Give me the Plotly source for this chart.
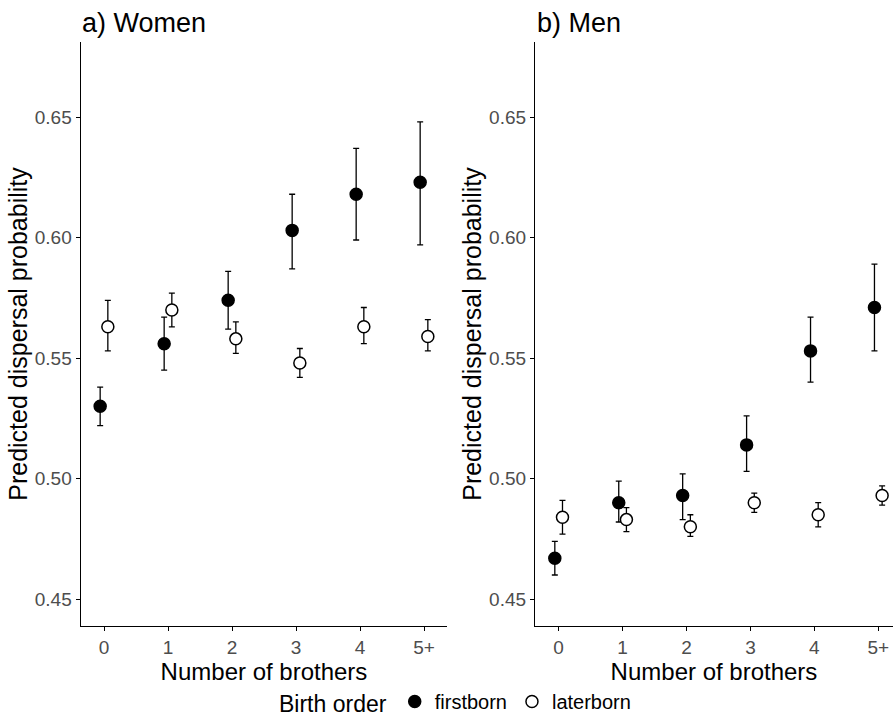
import plotly.graph_objects as go

categories = ["0", "1", "2", "3", "4", "5+"]

women_first = [0.530, 0.556, 0.574, 0.603, 0.618, 0.623]
women_first_lo = [0.522, 0.545, 0.562, 0.587, 0.599, 0.597]
women_first_hi = [0.538, 0.567, 0.586, 0.618, 0.637, 0.648]
women_later = [0.563, 0.570, 0.558, 0.548, 0.563, 0.559]
women_later_lo = [0.553, 0.563, 0.552, 0.542, 0.556, 0.553]
women_later_hi = [0.574, 0.577, 0.565, 0.554, 0.571, 0.566]

men_first = [0.467, 0.490, 0.493, 0.514, 0.553, 0.571]
men_first_lo = [0.460, 0.482, 0.483, 0.503, 0.540, 0.553]
men_first_hi = [0.474, 0.499, 0.502, 0.526, 0.567, 0.589]
men_later = [0.484, 0.483, 0.480, 0.490, 0.485, 0.493]
men_later_lo = [0.477, 0.478, 0.476, 0.486, 0.480, 0.489]
men_later_hi = [0.491, 0.488, 0.485, 0.494, 0.490, 0.497]

FONT = "Liberation Sans, Arial, sans-serif"
DODGE = 0.06
xpos = list(range(len(categories)))

fig = go.Figure()


def add_series(vals, lo, hi, offset, name, filled, xa, ya, show):
    fig.add_trace(go.Scatter(
        x=[i + offset for i in xpos], y=vals,
        mode="markers", name=name, showlegend=show, legendgroup=name,
        marker=dict(symbol="circle", size=12,
                    color="black" if filled else "white",
                    line=dict(color="black", width=1.5)),
        error_y=dict(type="data", symmetric=False,
                     array=[h - v for h, v in zip(hi, vals)],
                     arrayminus=[v - l for l, v in zip(lo, vals)],
                     color="black", thickness=1.3, width=3),
        cliponaxis=False,
        xaxis=xa, yaxis=ya,
    ))


add_series(women_first, women_first_lo, women_first_hi, -DODGE, "firstborn", True, "x", "y", True)
add_series(women_later, women_later_lo, women_later_hi, DODGE, "laterborn", False, "x", "y", True)
add_series(men_first, men_first_lo, men_first_hi, -DODGE, "firstborn", True, "x2", "y2", False)
add_series(men_later, men_later_lo, men_later_hi, DODGE, "laterborn", False, "x2", "y2", False)

W = 893.0
H = 722.0
ydom = [(H - 630) / H, (H - 42.7) / H]

common_x = dict(tickvals=xpos, ticktext=categories, showline=True, linecolor="black",
                linewidth=1.3, ticks="outside", ticklen=4, tickcolor="black",
                showgrid=False, zeroline=False, tickfont=dict(size=19, color="#4d4d4d"),
                title=dict(text="Number of brothers", font=dict(size=24, color="black"), standoff=0))
common_y = dict(range=[0.439, 0.681], tickvals=[0.45, 0.50, 0.55, 0.60, 0.65], tickformat=".2f",
                showline=True, linecolor="black", linewidth=1.3, ticks="outside", ticklen=4,
                tickcolor="black", showgrid=False, zeroline=False,
                tickfont=dict(size=19, color="#4d4d4d"),
                title=dict(text="Predicted dispersal probability", font=dict(size=25, color="black"), standoff=0),
                domain=ydom)

fig.update_layout(
    width=int(W), height=int(H),
    margin=dict(l=0, r=0, t=0, b=0),
    paper_bgcolor="white", plot_bgcolor="white",
    font=dict(family=FONT, color="black"),
    xaxis=dict(domain=[80.7 / W, 447.3 / W], range=[-0.364, 5.364], anchor="y", **common_x),
    yaxis=dict(anchor="x", **common_y),
    xaxis2=dict(domain=[535 / W, 1.0], range=[-0.37, 5.23], anchor="y2", **common_x),
    yaxis2=dict(anchor="x2", **common_y),
    legend=dict(orientation="h", x=277 / W, xanchor="left", y=(H - 707) / H, yanchor="middle",
                title=dict(text="Birth order", font=dict(size=23, color="black")),
                font=dict(size=20, color="black"), bgcolor="rgba(0,0,0,0)"),
    annotations=[
        dict(text="a) Women", x=80 / W, y=(H - 23) / H, xref="paper", yref="paper",
             xanchor="left", yanchor="middle", showarrow=False, font=dict(size=27, color="black")),
        dict(text="b) Men", x=535 / W, y=(H - 23) / H, xref="paper", yref="paper",
             xanchor="left", yanchor="middle", showarrow=False, font=dict(size=27, color="black")),
    ],
)

fig.write_html(
    "out.html",
    config={"displayModeBar": False},
    post_script="document.body.style.margin='0';document.body.style.overflow='hidden';",
)
